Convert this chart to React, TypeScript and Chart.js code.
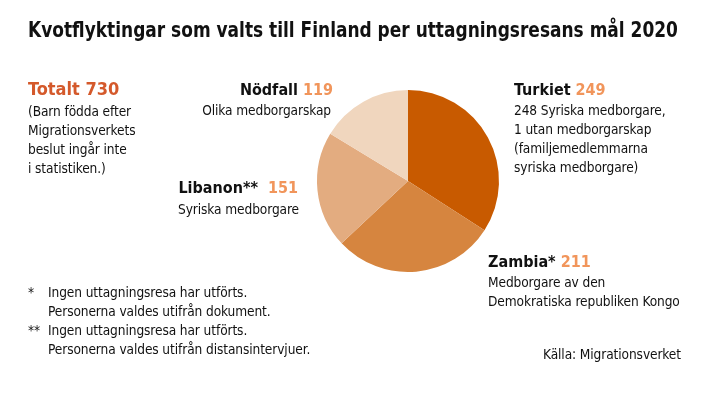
import React, { useEffect, useRef } from "react";
import { Chart, registerables } from "chart.js";

Chart.register(...registerables);

const categories = ["Turkiet", "Zambia*", "Libanon**", "Nödfall"];
const values = [249, 211, 151, 119];
const colors = ["#C85A00", "#D6853F", "#E3AC80", "#F0D6BE"];

const FONT = "'DejaVu Sans Condensed', 'Liberation Sans Narrow', sans-serif";
const NUM = "#F1955B";

const abs = (left: number, top: number, extra: React.CSSProperties = {}): React.CSSProperties => ({
  position: "absolute",
  left,
  top,
  whiteSpace: "nowrap",
  ...extra,
});

export default function App() {
  const ref = useRef<HTMLCanvasElement | null>(null);
  useEffect(() => {
    document.body.style.margin = "0";
    const chart = new Chart(ref.current!, {
      type: "pie",
      data: {
        labels: categories,
        datasets: [{ data: values, backgroundColor: colors, borderWidth: 0 }],
      },
      options: {
        animation: false,
        responsive: false,
        layout: { padding: { left: 317, right: 209, top: 90, bottom: 126 } },
        plugins: { legend: { display: false }, tooltip: { enabled: false } },
      },
    });
    return () => chart.destroy();
  }, []);

  const body: React.CSSProperties = { fontSize: 13.6, lineHeight: "19px", color: "#111", letterSpacing: "-0.1px" };
  const head: React.CSSProperties = { fontSize: 16, fontWeight: "bold", color: "#111", lineHeight: "20px" };

  return (
    <div style={{ position: "relative", width: 708, height: 398, fontFamily: FONT, background: "#fff" }}>
      <canvas ref={ref} width={708} height={398} style={{ position: "absolute", left: 0, top: 0 }} />
      <div
        style={abs(28, 18, {
          fontSize: 21,
          fontWeight: "bold",
          color: "#111",
          transform: "scaleX(0.9)",
          transformOrigin: "left top",
        })}
      >
        Kvotflyktingar som valts till Finland per uttagningsresans mål 2020
      </div>

      <div style={abs(28, 79, { ...head, fontSize: 18, color: "#D4592B" })}>Totalt 730</div>
      <div style={abs(28, 102, body)}>
        (Barn födda efter<br />Migrationsverkets<br />beslut ingår inte
      </div>
      <div style={abs(28, 159, body)}>i statistiken.)</div>

      <div style={abs(0, 80, { ...head, width: 333, textAlign: "right" })}>
        Nödfall <span style={{ color: NUM }}>119</span>
      </div>
      <div style={abs(0, 101, { ...body, width: 331, textAlign: "right" })}>Olika medborgarskap</div>

      <div style={abs(0, 178, { ...head, width: 298, textAlign: "right" })}>
        Libanon**&nbsp; <span style={{ color: NUM }}>151</span>
      </div>
      <div style={abs(0, 200, { ...body, width: 299, textAlign: "right" })}>Syriska medborgare</div>

      <div style={abs(514, 80, head)}>
        Turkiet <span style={{ color: NUM }}>249</span>
      </div>
      <div style={abs(514, 101, body)}>
        248 Syriska medborgare,<br />1 utan medborgarskap<br />(familjemedlemmarna<br />syriska medborgare)
      </div>

      <div style={abs(488, 252, head)}>
        Zambia* <span style={{ color: NUM }}>211</span>
      </div>
      <div style={abs(488, 273, body)}>
        Medborgare av den<br />Demokratiska republiken Kongo
      </div>

      <div style={abs(28, 283, body)}>*</div>
      <div style={abs(48, 283, body)}>
        Ingen uttagningsresa har utförts.<br />Personerna valdes utifrån dokument.
      </div>
      <div style={abs(28, 321, body)}>**</div>
      <div style={abs(48, 321, body)}>
        Ingen uttagningsresa har utförts.<br />Personerna valdes utifrån distansintervjuer.
      </div>

      <div style={abs(0, 345, { ...body, width: 681, textAlign: "right" })}>Källa: Migrationsverket</div>
    </div>
  );
}
